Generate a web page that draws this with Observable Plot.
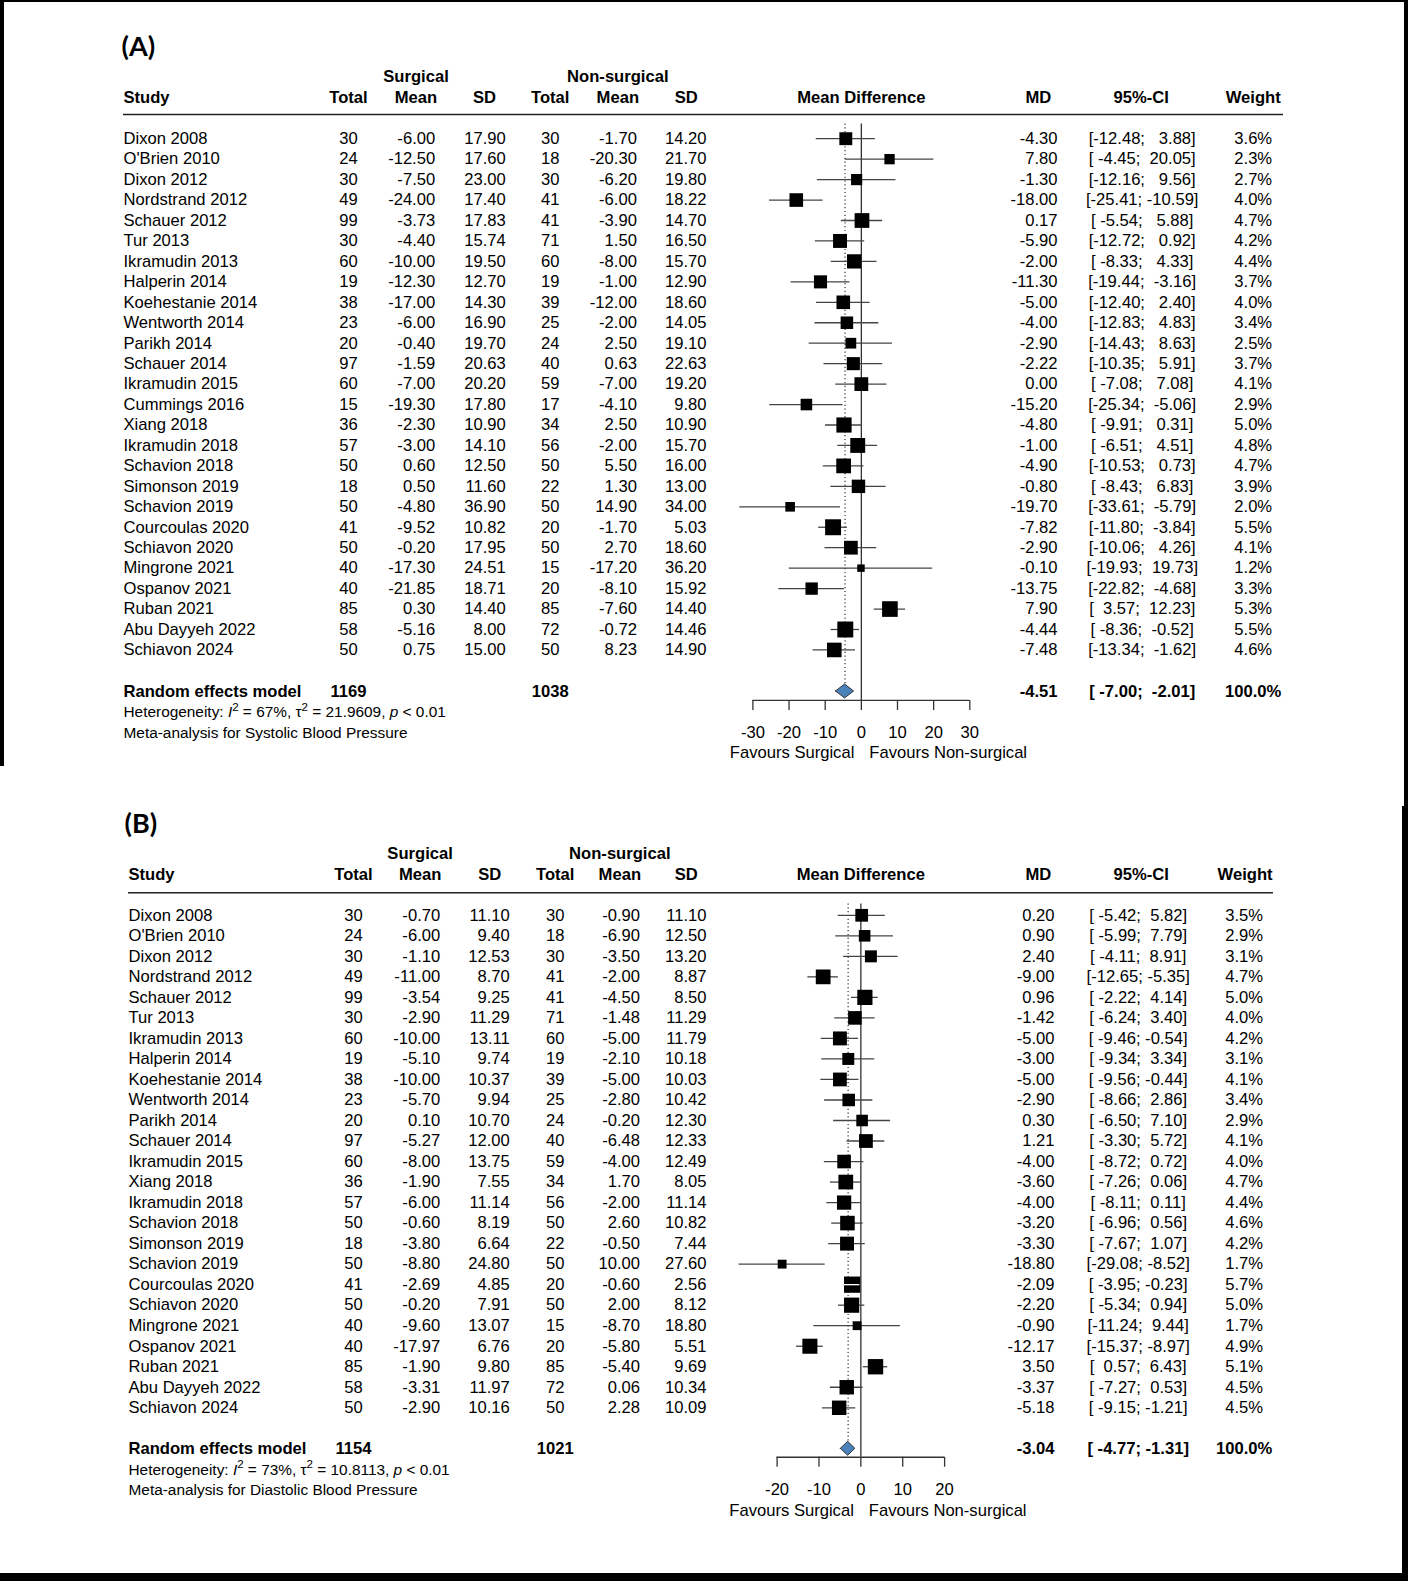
<!DOCTYPE html>
<html><head><meta charset="utf-8">
<script src="https://cdn.jsdelivr.net/npm/d3@7"></script>
<script src="https://cdn.jsdelivr.net/npm/@observablehq/plot@0.6"></script>
<style>
html,body{margin:0;padding:0;background:#fff;}
#page{position:relative;width:1408px;height:1581px;overflow:hidden;background:#fff;}
.panel{position:absolute;left:0;}
.bar{position:absolute;background:#000;}
</style></head><body><div id="page"></div>
<script>
// ---------------- Panel A : Systolic blood pressure ----------------
const titleA = "(A)";
const outcomeA = "Meta-analysis for Systolic Blood Pressure";
const studiesA = ["Dixon 2008","O'Brien 2010","Dixon 2012","Nordstrand 2012","Schauer 2012","Tur 2013","Ikramudin 2013","Halperin 2014","Koehestanie 2014","Wentworth 2014","Parikh 2014","Schauer 2014","Ikramudin 2015","Cummings 2016","Xiang 2018","Ikramudin 2018","Schavion 2018","Simonson 2019","Schavion 2019","Courcoulas 2020","Schiavon 2020","Mingrone 2021","Ospanov 2021","Ruban 2021","Abu Dayyeh 2022","Schiavon 2024"];
const nSurgA = [30,24,30,49,99,30,60,19,38,23,20,97,60,15,36,57,50,18,50,41,50,40,40,85,58,50];
const meanSurgA = [-6.00,-12.50,-7.50,-24.00,-3.73,-4.40,-10.00,-12.30,-17.00,-6.00,-0.40,-1.59,-7.00,-19.30,-2.30,-3.00,0.60,0.50,-4.80,-9.52,-0.20,-17.30,-21.85,0.30,-5.16,0.75];
const sdSurgA = [17.90,17.60,23.00,17.40,17.83,15.74,19.50,12.70,14.30,16.90,19.70,20.63,20.20,17.80,10.90,14.10,12.50,11.60,36.90,10.82,17.95,24.51,18.71,14.40,8.00,15.00];
const nNonA = [30,18,30,41,41,71,60,19,39,25,24,40,59,17,34,56,50,22,50,20,50,15,20,85,72,50];
const meanNonA = [-1.70,-20.30,-6.20,-6.00,-3.90,1.50,-8.00,-1.00,-12.00,-2.00,2.50,0.63,-7.00,-4.10,2.50,-2.00,5.50,1.30,14.90,-1.70,2.70,-17.20,-8.10,-7.60,-0.72,8.23];
const sdNonA = [14.20,21.70,19.80,18.22,14.70,16.50,15.70,12.90,18.60,14.05,19.10,22.63,19.20,9.80,10.90,15.70,16.00,13.00,34.00,5.03,18.60,36.20,15.92,14.40,14.46,14.90];
const mdA = [-4.30,7.80,-1.30,-18.00,0.17,-5.90,-2.00,-11.30,-5.00,-4.00,-2.90,-2.22,0.00,-15.20,-4.80,-1.00,-4.90,-0.80,-19.70,-7.82,-2.90,-0.10,-13.75,7.90,-4.44,-7.48];
const loA = [-12.48,-4.45,-12.16,-25.41,-5.54,-12.72,-8.33,-19.44,-12.40,-12.83,-14.43,-10.35,-7.08,-25.34,-9.91,-6.51,-10.53,-8.43,-33.61,-11.80,-10.06,-19.93,-22.82,3.57,-8.36,-13.34];
const hiA = [3.88,20.05,9.56,-10.59,5.88,0.92,4.33,-3.16,2.40,4.83,8.63,5.91,7.08,-5.06,0.31,4.51,0.73,6.83,-5.79,-3.84,4.26,19.73,-4.68,12.23,-0.52,-1.62];
const weightA = [3.6,2.3,2.7,4.0,4.7,4.2,4.4,3.7,4.0,3.4,2.5,3.7,4.1,2.9,5.0,4.8,4.7,3.9,2.0,5.5,4.1,1.2,3.3,5.3,5.5,4.6];
const summaryA = {nSurg:1169, nNon:1038, md:-4.51, lo:-7.00, hi:-2.01, w:100.0};
const hetA = {i2:"67%", tau2:"21.9609", p:"< 0.01"};
const ticksA = [-30,-20,-10,0,10,20,30];

// ---------------- Panel B : Diastolic blood pressure ----------------
const titleB = "(B)";
const outcomeB = "Meta-analysis for Diastolic Blood Pressure";
const studiesB = ["Dixon 2008","O'Brien 2010","Dixon 2012","Nordstrand 2012","Schauer 2012","Tur 2013","Ikramudin 2013","Halperin 2014","Koehestanie 2014","Wentworth 2014","Parikh 2014","Schauer 2014","Ikramudin 2015","Xiang 2018","Ikramudin 2018","Schavion 2018","Simonson 2019","Schavion 2019","Courcoulas 2020","Schiavon 2020","Mingrone 2021","Ospanov 2021","Ruban 2021","Abu Dayyeh 2022","Schiavon 2024"];
const nSurgB = [30,24,30,49,99,30,60,19,38,23,20,97,60,36,57,50,18,50,41,50,40,40,85,58,50];
const meanSurgB = [-0.70,-6.00,-1.10,-11.00,-3.54,-2.90,-10.00,-5.10,-10.00,-5.70,0.10,-5.27,-8.00,-1.90,-6.00,-0.60,-3.80,-8.80,-2.69,-0.20,-9.60,-17.97,-1.90,-3.31,-2.90];
const sdSurgB = [11.10,9.40,12.53,8.70,9.25,11.29,13.11,9.74,10.37,9.94,10.70,12.00,13.75,7.55,11.14,8.19,6.64,24.80,4.85,7.91,13.07,6.76,9.80,11.97,10.16];
const nNonB = [30,18,30,41,41,71,60,19,39,25,24,40,59,34,56,50,22,50,20,50,15,20,85,72,50];
const meanNonB = [-0.90,-6.90,-3.50,-2.00,-4.50,-1.48,-5.00,-2.10,-5.00,-2.80,-0.20,-6.48,-4.00,1.70,-2.00,2.60,-0.50,10.00,-0.60,2.00,-8.70,-5.80,-5.40,0.06,2.28];
const sdNonB = [11.10,12.50,13.20,8.87,8.50,11.29,11.79,10.18,10.03,10.42,12.30,12.33,12.49,8.05,11.14,10.82,7.44,27.60,2.56,8.12,18.80,5.51,9.69,10.34,10.09];
const mdB = [0.20,0.90,2.40,-9.00,0.96,-1.42,-5.00,-3.00,-5.00,-2.90,0.30,1.21,-4.00,-3.60,-4.00,-3.20,-3.30,-18.80,-2.09,-2.20,-0.90,-12.17,3.50,-3.37,-5.18];
const loB = [-5.42,-5.99,-4.11,-12.65,-2.22,-6.24,-9.46,-9.34,-9.56,-8.66,-6.50,-3.30,-8.72,-7.26,-8.11,-6.96,-7.67,-29.08,-3.95,-5.34,-11.24,-15.37,0.57,-7.27,-9.15];
const hiB = [5.82,7.79,8.91,-5.35,4.14,3.40,-0.54,3.34,-0.44,2.86,7.10,5.72,0.72,0.06,0.11,0.56,1.07,-8.52,-0.23,0.94,9.44,-8.97,6.43,0.53,-1.21];
const weightB = [3.5,2.9,3.1,4.7,5.0,4.0,4.2,3.1,4.1,3.4,2.9,4.1,4.0,4.7,4.4,4.6,4.2,1.7,5.7,5.0,1.7,4.9,5.1,4.5,4.5];
const summaryB = {nSurg:1154, nNon:1021, md:-3.04, lo:-4.77, hi:-1.31, w:100.0};
const hetB = {i2:"73%", tau2:"10.8113", p:"< 0.01"};
const ticksB = [-20,-10,0,10,20];

const labelLeft = "Favours Surgical";
const labelRight = "Favours Non-surgical";

// ---------------- layout (styling only) ----------------
const LA = {top:0, height:775, row0:138.2, step:20.45, titleRow:-4.49, titleX:121,
  hdr1:-3.01, hdr2:-2.02, lineRow:-1.18, lineX0:123, lineX1:1283, refTop:-0.72,
  sumRow:27.03, hetRow:28.06, metaRow:29.07, axisRow:27.47, favRow:30.04, x0:752.4, x1:969.3,
  col:{study:123,n1:348,m1:434.7,s1:505.3,n2:549.7,m2:636.4,s2:706,md:1057,ci:1141.7,w:1252.7},
  hdr:{n1:348,m1:415.5,s1:484,n2:549.7,m2:617.3,s2:685.8,md:1037.8,ci:1140.7,w:1252.7}};
const LB = {top:775, height:806, row0:139.8, step:20.52, titleRow:-4.43, titleX:124,
  hdr1:-3.0, hdr2:-1.97, lineRow:-1.1, lineX0:128, lineX1:1273, refTop:-0.55,
  sumRow:26, hetRow:27.03, metaRow:28.02, axisRow:26.41, favRow:29.0, x0:776.6, x1:944.1,
  col:{study:128,n1:353,m1:439.7,s1:509.3,n2:554.7,m2:639.5,s2:706,md:1054,ci:1137.7,w:1243.6},
  hdr:{n1:353,m1:419.6,s1:489.2,n2:554.7,m2:619.3,s2:685.8,md:1037.8,ci:1140.7,w:1244.6}};

const FS = 16.6, FS2 = 15.4;
const FONT = "'Liberation Sans', Arial, Helvetica, sans-serif";
const NB = "\u00A0";
const f2 = v => v.toFixed(2);
const pad = (s, n) => NB.repeat(Math.max(0, n - s.length)) + s;

function drawPanel(d, L) {
  const rows = d.studies.map((s, i) => ({i, study:s, n1:d.n1[i], m1:d.m1[i], s1:d.s1[i], n2:d.n2[i], m2:d.m2[i], s2:d.s2[i], md:d.md[i], lo:d.lo[i], hi:d.hi[i], w:d.w[i]}));
  const wl = d3.max([...d.lo, d.sum.lo].map(f2), s => s.length);
  const wh = d3.max([...d.hi, d.sum.hi].map(f2), s => s.length);
  const ci = (lo, hi) => "[" + pad(f2(lo), wl) + ";" + NB + pad(f2(hi), wh) + "]";
  const ppu = (L.x1 - L.x0) / (d.ticks[d.ticks.length - 1] - d.ticks[0]);
  const sideK = 6.8;
  const inside = rows.filter(r => (r.hi - r.lo) * ppu < sideK * Math.sqrt(r.w));
  const axisPx = L.row0 + L.axisRow * L.step;

  const T = (data, o) => Plot.text(data, {frameAnchor:"left", textAnchor:"middle", fontSize:FS, fill:"black", ...o});
  const marks = [];
  // title
  marks.push(T([d.title], {y:() => L.titleRow, text:t => t, dx:L.titleX, textAnchor:"start", fontFamily:"Lato, 'Open Sans', sans-serif", fontWeight:"bold", fontSize:27}));
  // group headers
  marks.push(T(["Surgical"], {y:() => L.hdr1, text:t => t, dx:L.hdr.m1, fontWeight:"bold"}));
  marks.push(T(["Non-surgical"], {y:() => L.hdr1, text:t => t, dx:L.hdr.m2, fontWeight:"bold"}));
  // column headers
  marks.push(T(["Study"], {y:() => L.hdr2, text:t => t, dx:L.col.study, textAnchor:"start", fontWeight:"bold"}));
  const heads = [["Total","n1"],["Mean","m1"],["SD","s1"],["Total","n2"],["Mean","m2"],["SD","s2"],["MD","md"],["95%-CI","ci"],["Weight","w"]];
  for (const [lab, k] of heads) marks.push(T([lab], {y:() => L.hdr2, text:t => t, dx:L.hdr[k], fontWeight:"bold"}));
  marks.push(Plot.text(["Mean Difference"], {x:() => 0, y:() => L.hdr2, text:t => t, fontWeight:"bold", fontSize:FS, fill:"black"}));
  marks.push(Plot.ruleY([L.lineRow], {insetLeft:L.lineX0, insetRight:1408 - L.lineX1, stroke:"#222", strokeWidth:1.4}));
  // reference lines
  marks.push(Plot.ruleX([0], {y1:() => L.refTop, y2:() => L.axisRow, stroke:"#333", strokeWidth:1.3}));
  marks.push(Plot.ruleX([d.sum.md], {y1:() => L.refTop, y2:() => L.sumRow, stroke:"#333", strokeWidth:1.2, strokeDasharray:"1.2,2.6"}));
  // CI lines, squares
  marks.push(Plot.ruleY(rows, {y:"i", x1:"lo", x2:"hi", stroke:"#444", strokeWidth:1.3}));
  marks.push(Plot.dot(rows, {x:"md", y:"i", r:"w", symbol:"square", fill:"black"}));
  marks.push(Plot.ruleY(inside, {y:"i", x1:"lo", x2:"hi", stroke:"white", strokeWidth:1.3}));
  // summary diamond
  const h = 0.34;
  marks.push(Plot.area([
    {x:d.sum.lo, y1:L.sumRow, y2:L.sumRow},
    {x:d.sum.md, y1:L.sumRow - h, y2:L.sumRow + h},
    {x:d.sum.hi, y1:L.sumRow, y2:L.sumRow}], {x1:"x", y1:"y1", y2:"y2", fill:"#4a82b9", stroke:"#333", strokeWidth:1}));
  // axis
  marks.push(Plot.ruleY([L.axisRow], {x1:() => d.ticks[0], x2:() => d.ticks[d.ticks.length - 1], stroke:"#333", strokeWidth:1.3}));
  marks.push(Plot.axisX(d.ticks, {anchor:"bottom", tickSize:10, tickPadding:16, tickFormat:v => String(v), fontSize:FS, stroke:"#333", strokeWidth:1.3, fill:"black", label:null}));
  marks.push(Plot.text([labelLeft], {x:() => 0, y:() => L.favRow, text:t => t, textAnchor:"end", dx:-7, fontSize:FS, fill:"black"}));
  marks.push(Plot.text([labelRight], {x:() => 0, y:() => L.favRow, text:t => t, textAnchor:"start", dx:8, fontSize:FS, fill:"black"}));
  // table body
  const C = L.col;
  marks.push(T(rows, {y:"i", text:"study", dx:C.study, textAnchor:"start"}));
  marks.push(T(rows, {y:"i", text:r => String(r.n1), dx:C.n1}));
  marks.push(T(rows, {y:"i", text:r => f2(r.m1), dx:C.m1, textAnchor:"end"}));
  marks.push(T(rows, {y:"i", text:r => f2(r.s1), dx:C.s1, textAnchor:"end"}));
  marks.push(T(rows, {y:"i", text:r => String(r.n2), dx:C.n2}));
  marks.push(T(rows, {y:"i", text:r => f2(r.m2), dx:C.m2, textAnchor:"end"}));
  marks.push(T(rows, {y:"i", text:r => f2(r.s2), dx:C.s2, textAnchor:"end"}));
  marks.push(T(rows, {y:"i", text:r => f2(r.md), dx:C.md, textAnchor:"end"}));
  marks.push(T(rows, {y:"i", text:r => ci(r.lo, r.hi), dx:C.ci}));
  marks.push(T(rows, {y:"i", text:r => r.w.toFixed(1) + "%", dx:C.w}));
  // summary row
  const sy = () => L.sumRow;
  marks.push(T(["Random effects model"], {y:sy, text:t => t, dx:C.study, textAnchor:"start", fontWeight:"bold"}));
  marks.push(T([d.sum.nSurg], {y:sy, text:t => String(t), dx:C.n1, fontWeight:"bold"}));
  marks.push(T([d.sum.nNon], {y:sy, text:t => String(t), dx:C.n2, fontWeight:"bold"}));
  marks.push(T([d.sum.md], {y:sy, text:t => f2(t), dx:C.md, textAnchor:"end", fontWeight:"bold"}));
  marks.push(T([d.sum], {y:sy, text:s => ci(s.lo, s.hi), dx:C.ci, fontWeight:"bold"}));
  marks.push(T([d.sum.w], {y:sy, text:t => t.toFixed(1) + "%", dx:C.w, fontWeight:"bold"}));
  // footer lines
  const hetText = "Heterogeneity: I2 = " + d.het.i2 + ", \u03c42 = " + d.het.tau2 + ", p " + d.het.p;
  marks.push(T([hetText], {y:() => L.hetRow, text:t => t, dx:C.study, textAnchor:"start", fontSize:FS2}));
  marks.push(T([d.outcome], {y:() => L.metaRow, text:t => t, dx:C.study, textAnchor:"start", fontSize:FS2}));

  const svg = Plot.plot({
    width:1408, height:L.height,
    marginTop:0, marginLeft:0, marginRight:0, marginBottom:L.height - axisPx,
    x:{domain:[d.ticks[0], d.ticks[d.ticks.length - 1]], range:[L.x0, L.x1], label:null},
    y:{domain:[0, 1], range:[L.row0, L.row0 + L.step], axis:null, label:null},
    r:{type:"sqrt", domain:[0, 1], range:[0, sideK / Math.sqrt(Math.PI)]},
    style:{fontFamily:FONT, fontSize:FS + "px", color:"black", background:"white", overflow:"visible"},
    marks
  });

  // rich heterogeneity text (italics and superscripts)
  d3.select(svg).selectAll("text").filter(function () { return this.textContent.startsWith("Heterogeneity"); }).each(function () {
    const t = d3.select(this);
    t.text(null);
    const parts = [["Heterogeneity: "], ["I", "i"], ["2", "sup"], [" = " + d.het.i2 + ", \u03c4"], ["2", "sup"], [" = " + d.het.tau2 + ", "], ["p", "i"], [" " + d.het.p]];
    let up = false;
    for (const [s, k] of parts) {
      const sp = t.append("tspan").text(s);
      if (k === "i") sp.attr("font-style", "italic");
      if (k === "sup") { sp.attr("font-size", FS2 * 0.75).attr("dy", -FS2 * 0.42); up = true; }
      else if (up) { sp.attr("dy", FS2 * 0.42); up = false; }
    }
  });
  return svg;
}

const page = document.getElementById("page");
const panels = [
  [{title:titleA, outcome:outcomeA, studies:studiesA, n1:nSurgA, m1:meanSurgA, s1:sdSurgA, n2:nNonA, m2:meanNonA, s2:sdNonA, md:mdA, lo:loA, hi:hiA, w:weightA, sum:summaryA, het:hetA, ticks:ticksA}, LA],
  [{title:titleB, outcome:outcomeB, studies:studiesB, n1:nSurgB, m1:meanSurgB, s1:sdSurgB, n2:nNonB, m2:meanNonB, s2:sdNonB, md:mdB, lo:loB, hi:hiB, w:weightB, sum:summaryB, het:hetB, ticks:ticksB}, LB]
];
for (const [d, L] of panels) {
  const div = document.createElement("div");
  div.className = "panel";
  div.style.top = L.top + "px";
  div.appendChild(drawPanel(d, L));
  page.appendChild(div);
}
// black frame edges of the composite image
for (const [l, t, w, h] of [[0,0,1408,2],[0,0,4,766],[1404,0,4,806],[1402,806,6,775],[0,1573,1408,8]]) {
  const b = document.createElement("div");
  b.className = "bar";
  Object.assign(b.style, {left:l + "px", top:t + "px", width:w + "px", height:h + "px"});
  page.appendChild(b);
}
</script></body></html>
